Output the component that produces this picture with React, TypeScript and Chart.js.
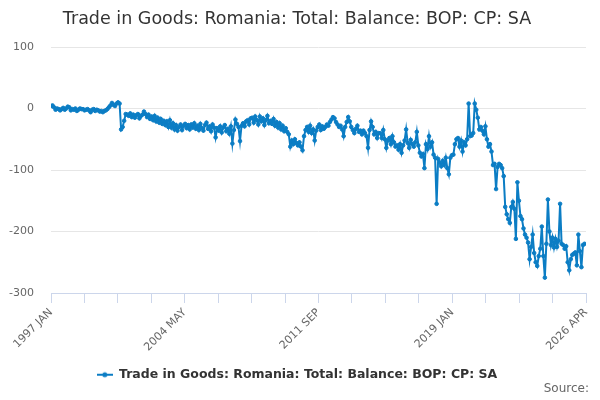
import React, { useEffect, useRef } from "react";
import { Chart, registerables } from "chart.js";

Chart.register(...registerables);

const TITLE = "Trade in Goods: Romania: Total: Balance: BOP: CP: SA";
const SERIES_NAME = "Trade in Goods: Romania: Total: Balance: BOP: CP: SA";
const SOURCE_TEXT = "Source:";
const FONT = "'DejaVu Sans', 'Liberation Sans', sans-serif";
const LINE_COLOR = "#0b7dc4";

// Monthly values, 1997 JAN onwards (GBP million)
const v1997 = [4, 5, 2, -2, 0, -1, -3, -1, 1, -2, 0, 3];
const v1998 = [2, -3, -1, -2, 0, -4, -2, 0, -1, -1, -3, -2];
const v1999 = [-1, -3, -6, -2, -1, -4, -2, -3, -5, -4, -6, -4];
const v2000 = [-3, -1, 2, 5, 9, 6, 4, 8, 10, 8, -34, -30];
const v2001 = [-20, -9, -10, -12, -8, -14, -10, -15, -11, -9, -16, -12];
const v2002 = [-10, -5, -9, -14, -10, -17, -13, -19, -12, -21, -15, -23];
const v2003 = [-17, -25, -20, -27, -21, -30, -19, -31, -24, -34, -27, -36];
const v2004 = [-30, -26, -35, -28, -25, -32, -27, -34, -26, -31, -24, -33];
const v2005 = [-28, -35, -25, -32, -36, -27, -23, -33, -29, -37, -26, -31];
const v2006 = [-47, -32, -36, -29, -39, -31, -27, -37, -33, -41, -29, -57];
const v2007 = [-35, -18, -25, -30, -53, -28, -24, -29, -21, -19, -26, -16];
const v2008 = [-15, -23, -13, -19, -26, -13, -21, -16, -27, -19, -12, -24];
const v2009 = [-20, -25, -17, -28, -22, -31, -24, -34, -28, -37, -32, -38];
const v2010 = [-42, -62, -52, -58, -50, -56, -60, -55, -62, -68, -45, -35];
const v2011 = [-30, -38, -28, -40, -34, -52, -36, -30, -26, -35, -29, -33];
const v2012 = [-30, -26, -28, -22, -18, -14, -16, -22, -26, -30, -28, -34];
const v2013 = [-45, -30, -22, -14, -21, -30, -35, -40, -33, -28, -38, -36];
const v2014 = [-42, -36, -40, -45, -64, -35, -21, -30, -42, -38, -48, -40];
const v2015 = [-40, -48, -35, -50, -64, -52, -48, -58, -45, -55, -62, -60];
const v2016 = [-67, -58, -72, -60, -52, -34, -56, -64, -51, -58, -62, -55];
const v2017 = [-38, -60, -72, -78, -74, -97, -58, -66, -45, -62, -55, -75];
const v2018 = [-80, -155, -82, -88, -94, -85, -92, -80, -97, -107, -80, -76];
const v2019 = [-75, -58, -50, -48, -62, -52, -70, -55, -60, -50, 8, -45];
const v2020 = [-44, -40, 8, -2, -15, -34, -30, -36, -42, -29, -50, -62];
const v2021 = [-58, -70, -92, -90, -131, -95, -90, -92, -97, -110, -160, -172];
const v2022 = [-180, -186, -160, -152, -163, -212, -120, -150, -175, -180, -195, -205];
const v2023 = [-210, -218, -245, -225, -205, -235, -250, -256, -240, -228, -192, -240];
const v2024 = [-275, -220, -148, -200, -222, -210, -226, -212, -225, -215, -155, -220];
const v2025 = [-222, -228, -224, -250, -263, -245, -238, -236, -234, -255, -205, -232];
const v2026 = [-258, -222, -220];

const VALUES = [
  ...v1997, ...v1998, ...v1999, ...v2000, ...v2001, ...v2002, ...v2003, ...v2004,
  ...v2005, ...v2006, ...v2007, ...v2008, ...v2009, ...v2010, ...v2011, ...v2012,
  ...v2013, ...v2014, ...v2015, ...v2016, ...v2017, ...v2018, ...v2019, ...v2020,
  ...v2021, ...v2022, ...v2023, ...v2024, ...v2025, ...v2026,
];

// Axis: 1997 JAN (index 0) to 2026 APR (index 351)
const X_MAX_INDEX = 351;
const X_TICK_COUNT = 17;
const X_TICK_LABELS = ["1997 JAN", "2004 MAY", "2011 SEP", "2019 JAN", "2026 APR"];
const Y_MIN = -300;
const Y_MAX = 100;
const Y_STEP = 100;

export default function App() {
  const canvasRef = useRef<HTMLCanvasElement | null>(null);

  useEffect(() => {
    const canvas = canvasRef.current;
    if (!canvas) return;

    const legendIcon = document.createElement("canvas");
    legendIcon.width = 16;
    legendIcon.height = 8;
    const ictx = legendIcon.getContext("2d");
    if (ictx) {
      ictx.strokeStyle = LINE_COLOR;
      ictx.lineWidth = 2;
      ictx.beginPath();
      ictx.moveTo(0, 4);
      ictx.lineTo(16, 4);
      ictx.stroke();
      ictx.fillStyle = LINE_COLOR;
      ictx.beginPath();
      ictx.arc(8, 4, 2.5, 0, Math.PI * 2);
      ictx.fill();
    }

    const sourcePlugin = {
      id: "sourceText",
      afterDraw(chart: any) {
        const ctx = chart.ctx;
        ctx.save();
        ctx.font = `12px ${FONT}`;
        ctx.fillStyle = "#666666";
        ctx.textAlign = "right";
        ctx.textBaseline = "middle";
        ctx.fillText(SOURCE_TEXT, 589, 389);
        ctx.restore();
      },
    };

    const chart = new Chart(canvas, {
      type: "line",
      data: {
        datasets: [
          {
            label: SERIES_NAME,
            data: VALUES.map((y, i) => ({ x: i, y })),
            borderColor: LINE_COLOR,
            backgroundColor: LINE_COLOR,
            borderWidth: 2,
            pointRadius: 1.8,
            pointBorderWidth: 1,
            pointBackgroundColor: LINE_COLOR,
            pointBorderColor: LINE_COLOR,
            tension: 0,
            fill: false,
          },
        ],
      },
      options: {
        responsive: false,
        maintainAspectRatio: false,
        animation: false,
        layout: { padding: { left: 8, right: 14, top: 0, bottom: 9 } },
        plugins: {
          title: {
            display: true,
            text: TITLE,
            color: "#333333",
            font: { family: FONT, size: 17.5, weight: "normal" },
            padding: { top: 9, bottom: 17 },
          },
          legend: {
            display: true,
            position: "bottom",
            labels: {
              usePointStyle: true,
              pointStyle: legendIcon as any,
              pointStyleWidth: 16,
              color: "#333333",
              font: { family: FONT, size: 12.5, weight: "bold" },
              padding: 10,
            },
          },
          tooltip: { enabled: false },
        },
        scales: {
          x: {
            type: "linear",
            min: 0,
            max: X_MAX_INDEX,
            afterBuildTicks: (scale: any) => {
              scale.ticks = Array.from({ length: X_TICK_COUNT }, (_, k) => ({
                value: (k * X_MAX_INDEX) / (X_TICK_COUNT - 1),
              }));
            },
            afterFit: (scale: any) => {
              scale.height = 65.5;
            },
            ticks: {
              autoSkip: false,
              minRotation: 45,
              maxRotation: 45,
              padding: 3,
              color: "#666666",
              font: { family: FONT, size: 11 },
              callback: (_v: any, idx: number) =>
                idx % 4 === 0 ? X_TICK_LABELS[idx / 4] : "",
            },
            grid: {
              drawOnChartArea: false,
              drawTicks: true,
              tickLength: 10,
              color: "#ccd6eb",
            },
            border: { display: true, color: "#ccd6eb" },
          },
          y: {
            min: Y_MIN,
            max: Y_MAX,
            afterFit: (scale: any) => {
              scale.width = 43;
            },
            ticks: {
              stepSize: Y_STEP,
              padding: 17,
              color: "#666666",
              font: { family: FONT, size: 11 },
            },
            grid: { color: "#e6e6e6", drawTicks: false },
            border: { display: false },
          },
        },
      },
      plugins: [sourcePlugin],
    });

    return () => {
      chart.destroy();
    };
  }, []);

  return (
    <div style={{ position: "absolute", left: 0, top: 0, width: 600, height: 400, background: "#fff" }}>
      <canvas ref={canvasRef} width={600} height={400} style={{ display: "block", width: 600, height: 400 }} />
    </div>
  );
}
